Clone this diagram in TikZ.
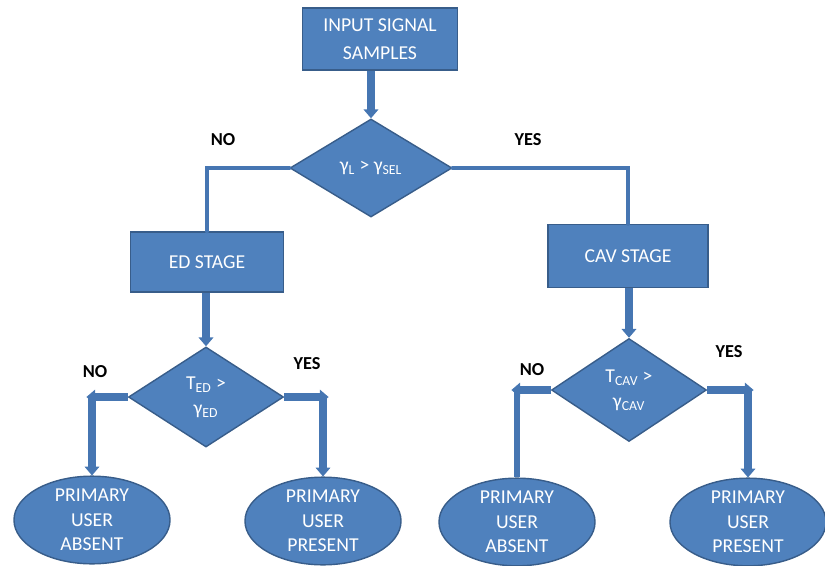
\documentclass[tikz,border=0pt]{standalone}
\usepackage{fontspec}
\setmainfont{Carlito}
\usetikzlibrary{arrows.meta,shapes.geometric}
\definecolor{boxblue}{HTML}{4F81BD}
\definecolor{edgeblue}{HTML}{385D8A}
\definecolor{arrowblue}{HTML}{4676B2}
\tikzset{
  block/.style={rectangle,fill=boxblue,draw=edgeblue,line width=1pt,text=white,
    align=center,font=\fontsize{14}{20}\selectfont},
  test/.style={diamond,fill=boxblue,draw=edgeblue,line width=1pt,text=white,
    align=center,inner sep=0pt,font=\fontsize{14}{18}\selectfont},
  result/.style={ellipse,fill=boxblue,draw=edgeblue,line width=1pt,text=white,
    align=center,inner sep=0pt,minimum width=3.9cm,minimum height=2.1cm,
    font=\fontsize{14}{17.5}\selectfont},
  answer/.style={font=\fontsize{13}{15}\selectfont\bfseries,text=black},
  flowarrow/.style={draw=arrowblue,line width=5pt,
    -{Triangle[width=0.36cm,length=0.22cm]}},
  branch/.style={draw=arrowblue,line width=4pt},
  link/.style={draw=arrowblue,line width=3pt,line cap=round}
}
\begin{document}
\begin{tikzpicture}[x=0.025cm,y=-0.025cm]
  \useasboundingbox (0,0) rectangle (825,566);
  % boxes and tests
  \node[block,minimum width=3.875cm,minimum height=1.55cm] (input) at (380,39) {INPUT SIGNAL\\SAMPLES};
  \node[test,minimum width=4.05cm,minimum height=2.45cm] (sel) at (371,168) {γ\textsubscript{L} > γ\textsubscript{SEL}};
  \node[block,minimum width=3.825cm,minimum height=1.5cm] (ed) at (207,262) {ED STAGE};
  \node[block,minimum width=4cm,minimum height=1.575cm] (cav) at (628,256) {CAV STAGE};
  \node[test,minimum width=3.875cm,minimum height=2.5cm] (edtest) at (206,397) {T\textsubscript{ED} >\\γ\textsubscript{ED}};
  \node[test,minimum width=3.875cm,minimum height=2.575cm] (cavtest) at (629,390) {T\textsubscript{CAV} >\\γ\textsubscript{CAV}};
  % outcomes
  \node[result] (edabs) at (92,520) {PRIMARY\\USER\\ABSENT};
  \node[result] (edpres) at (323,521) {PRIMARY\\USER\\PRESENT};
  \node[result] (cavabs) at (517,522) {PRIMARY\\USER\\ABSENT};
  \node[result] (cavpres) at (748,522) {PRIMARY\\USER\\PRESENT};
  % connectors
  \draw[flowarrow] (input.south -| sel.north) -- (sel.north);
  \draw[link] (sel.west) -| (ed.north);
  \draw[link] (sel.east) -| (cav.north);
  \draw[flowarrow] (ed.south -| edtest.north) -- (edtest.north);
  \draw[flowarrow] (cav.south -| cavtest.north) -- (cavtest.north);
  \draw[flowarrow,shorten >=-4pt] (edtest.west) -- (edabs.north |- edtest.west);
  \draw[flowarrow] (edabs.north |- edtest.west) -- (edabs.north);
  \draw[flowarrow,shorten >=-4pt] (edtest.east) -- (edpres.north |- edtest.east);
  \draw[flowarrow] (edpres.north |- edtest.east) -- (edpres.north);
  \draw[flowarrow,shorten >=-4pt] (cavtest.west) -- (cavabs.north |- cavtest.west);
  \draw[branch] (cavabs.north |- cavtest.west) -- (cavabs.north);
  \draw[flowarrow,shorten >=-4pt] (cavtest.east) -- (cavpres.north |- cavtest.east);
  \draw[flowarrow] (cavpres.north |- cavtest.east) -- (cavpres.north);
  % labels
  \node[answer] (no1) at (223,140) {NO};
  \node[answer] (yes1) at (528,140) {YES};
  \node[answer] (no2) at (95,372) {NO};
  \node[answer] (yes2) at (307,364) {YES};
  \node[answer] (no3) at (532,370) {NO};
  \node[answer] (yes3) at (729,352) {YES};
\end{tikzpicture}
\end{document}
